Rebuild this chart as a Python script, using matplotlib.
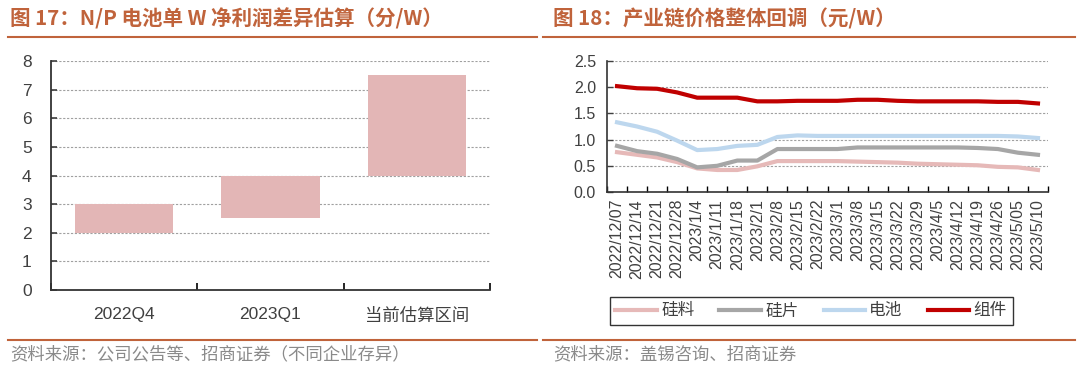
import matplotlib
matplotlib.use("Agg")
from matplotlib import pyplot as plt
from matplotlib.lines import Line2D

plt.rcParams['font.family'] = ['Liberation Sans', 'Noto Sans CJK SC', 'DejaVu Sans']

# left chart: floating bars (low, high)
quarters = ["2022Q4", "2023Q1", "当前估算区间"]
low = [2.0, 2.5, 4.0]
high = [3.0, 4.0, 7.5]

# right chart: weekly prices
dates = ["2022/12/07", "2022/12/14", "2022/12/21", "2022/12/28", "2023/1/4",
         "2023/1/11", "2023/1/18", "2023/2/1", "2023/2/8", "2023/2/15",
         "2023/2/22", "2023/3/1", "2023/3/8", "2023/3/15", "2023/3/22",
         "2023/3/29", "2023/4/5", "2023/4/12", "2023/4/19", "2023/4/26",
         "2023/5/05", "2023/5/10"]
silicon = [0.76, 0.71, 0.66, 0.57, 0.45, 0.42, 0.42, 0.49, 0.59, 0.59, 0.59,
           0.59, 0.58, 0.57, 0.56, 0.54, 0.53, 0.52, 0.51, 0.48, 0.47, 0.42]
wafer = [0.88, 0.78, 0.73, 0.63, 0.47, 0.50, 0.60, 0.60, 0.82, 0.82, 0.82,
         0.82, 0.85, 0.85, 0.85, 0.85, 0.85, 0.85, 0.84, 0.82, 0.75, 0.71]
cell = [1.33, 1.25, 1.15, 0.98, 0.80, 0.82, 0.88, 0.90, 1.05, 1.08, 1.07,
        1.07, 1.07, 1.07, 1.07, 1.07, 1.07, 1.07, 1.07, 1.07, 1.06, 1.03]
module = [2.02, 1.98, 1.97, 1.90, 1.80, 1.80, 1.80, 1.73, 1.73, 1.74, 1.74,
          1.74, 1.76, 1.76, 1.74, 1.73, 1.73, 1.73, 1.73, 1.72, 1.72, 1.69]

title_c = "#C0633B"
grey_txt = "#404040"
cjk = ['Noto Sans CJK SC', 'DejaVu Sans']
W, H = 1080, 373
fig = plt.figure(figsize=(W / 100, H / 100), dpi=100)

def ax_rect(x0, x1, ytop, ybot):
    return [x0 / W, 1 - ybot / H, (x1 - x0) / W, (ybot - ytop) / H]

# titles and rules
fig.text(10 / W, 1 - 19 / H, "图 17：N/P 电池单 W 净利润差异估算（分/W）", color=title_c,
         fontsize=14.8, fontweight="bold", va="center", family=cjk)
fig.text(553 / W, 1 - 19 / H, "图 18：产业链价格整体回调（元/W）", color=title_c,
         fontsize=14.8, fontweight="bold", va="center", family=cjk)
fig.add_artist(Line2D([8 / W, 537 / W], [1 - 37 / H] * 2, color=title_c, lw=1.5))
fig.add_artist(Line2D([543 / W, 1075 / W], [1 - 37 / H] * 2, color=title_c, lw=1.5))
fig.add_artist(Line2D([8 / W, 537 / W], [1 - 340 / H] * 2, color=title_c, lw=1.5))
fig.add_artist(Line2D([543 / W, 1075 / W], [1 - 340 / H] * 2, color=title_c, lw=1.5))
fig.text(10 / W, 1 - 354 / H, "资料来源：公司公告等、招商证券（不同企业存异）", color="#8a8a8a",
         fontsize=12.5, va="center", family=cjk)
fig.text(553 / W, 1 - 354 / H, "资料来源：盖锡咨询、招商证券", color="#8a8a8a",
         fontsize=12.5, va="center", family=cjk)

# left chart
ax1 = fig.add_axes(ax_rect(51, 490, 61, 290))
x1 = range(len(quarters))
ax1.bar(x1, [h - l for h, l in zip(high, low)], bottom=low, width=0.67,
        color="#E3B6B6", zorder=3)
ax1.set_xlim(-0.5, len(quarters) - 0.5)
ax1.set_ylim(0, 8)
ax1.set_yticks(range(0, 9))
ax1.set_xticks([-0.5, 0.5, 1.5, 2.5], minor=False)
ax1.set_xticklabels([])
ax1.set_xticks(list(x1), minor=True)
ax1.set_xticklabels(quarters, minor=True)
ax1.tick_params(axis="x", which="minor", length=0, pad=12, labelsize=12.5, colors=grey_txt)
ax1.tick_params(axis="x", which="major", length=5, direction="in", width=1.2)
ax1.tick_params(axis="y", length=4, direction="in", width=1.2, labelsize=12.5, colors=grey_txt, pad=14)
ax1.grid(axis="y", ls=(0, (2, 1.5)), color="#a0a0a0", lw=0.8, zorder=0)
for s in ["top", "right"]:
    ax1.spines[s].set_visible(False)
for s in ["left", "bottom"]:
    ax1.spines[s].set_linewidth(1.3)
    ax1.spines[s].set_color("#333333")
for lab in ax1.get_xticklabels(minor=True):
    if lab.get_text() == "当前估算区间":
        lab.set_family(cjk)
        lab.set_fontsize(12.5)

# right chart
ax2 = fig.add_axes(ax_rect(607, 1048, 61, 192))
x2 = range(len(dates))
ax2.plot(x2, silicon, color="#E6B9B8", lw=3, label="硅料")
ax2.plot(x2, wafer, color="#A6A6A6", lw=3, label="硅片")
ax2.plot(x2, cell, color="#BDD7EE", lw=3, label="电池")
ax2.plot(x2, module, color="#C00000", lw=3, label="组件")
ax2.set_xlim(-0.5, len(dates) - 0.5)
ax2.set_ylim(0, 2.5)
ax2.set_yticks([0, 0.5, 1.0, 1.5, 2.0, 2.5])
ax2.set_yticklabels(["0.0", "0.5", "1.0", "1.5", "2.0", "2.5"])
ax2.set_xticks([i - 0.5 for i in range(len(dates) + 1)])
ax2.set_xticklabels([])
ax2.set_xticks(list(x2), minor=True)
ax2.set_xticklabels(dates, minor=True, rotation=90)
ax2.tick_params(axis="x", which="minor", length=0, pad=5, labelsize=11.5, colors=grey_txt)
ax2.tick_params(axis="x", which="major", length=4, direction="in", width=1)
ax2.tick_params(axis="y", length=4, direction="in", width=1, labelsize=11.5, colors=grey_txt, pad=8)
ax2.grid(axis="y", ls=(0, (2, 1.5)), color="#a0a0a0", lw=0.8, zorder=0)
for s in ["top", "right"]:
    ax2.spines[s].set_visible(False)
for s in ["left", "bottom"]:
    ax2.spines[s].set_linewidth(1.2)
    ax2.spines[s].set_color("#333333")

leg = ax2.legend(loc="center", bbox_to_anchor=(811 / W, 1 - 311 / H), bbox_transform=fig.transFigure,
                 ncol=4, frameon=True, fancybox=False, edgecolor="black", handlelength=2.5,
                 columnspacing=1.5, handletextpad=0.25, borderpad=0.35,
                 prop={'family': cjk, 'size': 12})
leg.get_frame().set_linewidth(1.0)
for t in leg.get_texts():
    t.set_color(grey_txt)

fig.savefig("out.png", dpi=100)
